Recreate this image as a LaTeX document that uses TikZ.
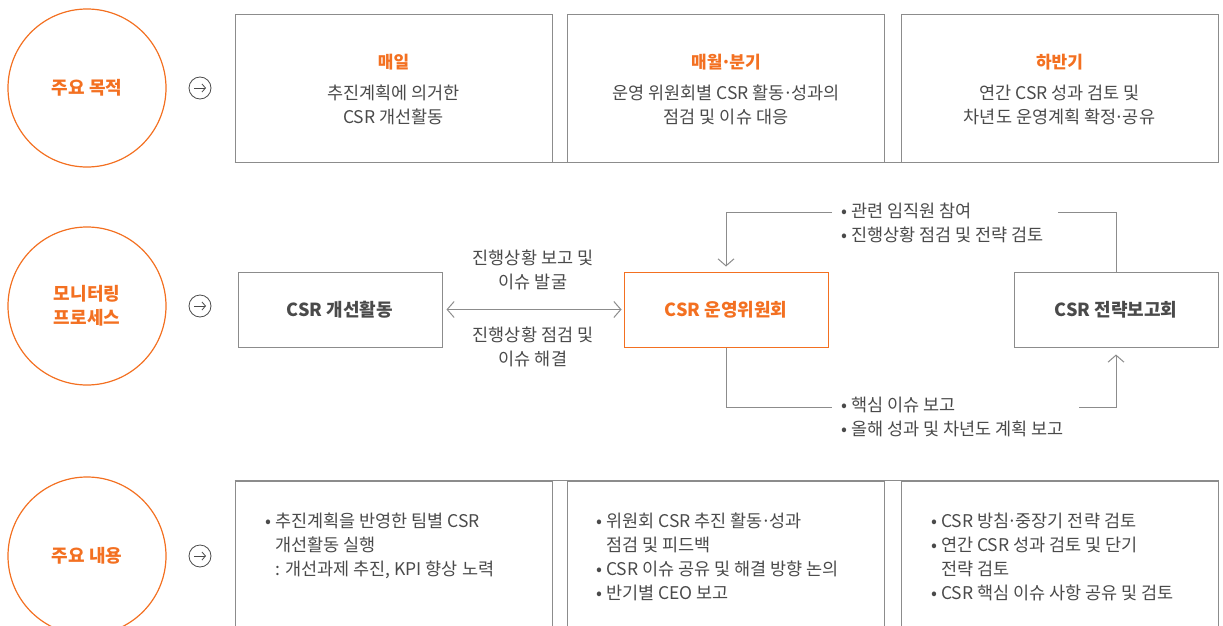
\documentclass[tikz,border=0pt]{standalone}
\usepackage{fontspec}
\setmainfont{Noto Sans CJK KR}
\usepackage{xcolor}
\usetikzlibrary{arrows.meta}

\definecolor{csrorange}{HTML}{F37021}
\definecolor{linegray}{HTML}{8C8C8C}
\definecolor{textgray}{HTML}{4A4A4A}

\newcommand{\middot}{\kern-.1em·\kern-.1em}

\tikzset{
  barb/.tip={Straight Barb[length=7pt,width=16pt]},
  smallbarb/.tip={Straight Barb[length=3.5pt,width=8pt]}
}

\begin{document}
\begin{tikzpicture}[x=1pt, y=-1pt,
    every node/.style={inner sep=0pt, text=textgray, font=\fontsize{17.5}{24}\selectfont},
    ring/.style={circle, draw=csrorange, line width=1.2pt, minimum size=158pt, align=center,
      text=csrorange, font=\bfseries\fontsize{18}{24}\selectfont},
    goicon/.style={circle, draw=textgray, line width=0.8pt, minimum size=22pt},
    cell/.style={draw=linegray, line width=1pt, minimum width=317pt, minimum height=147pt},
    stage/.style={draw=linegray, line width=1pt, minimum width=204pt, minimum height=75pt,
      font=\bfseries\fontsize{18}{24}\selectfont},
    period/.style={text=csrorange, font=\bfseries\fontsize{17}{24}\selectfont},
    flow/.style={draw=linegray, line width=1pt}]
  \useasboundingbox (0,0) rectangle (1223,626);
  \clip (0,0) rectangle (1223,626);

  % row labels
  \node[ring] (goal) at (87,88) {주요 목적};
  \node[ring] (monitor) at (87,306) {모니터링\\프로세스};
  \node[ring] (content) at (87,556) {주요 내용};

  \foreach \n/\y in {goal/88, monitor/306, content/556} {
    \node[goicon] (go\n) at (200,\y) {};
    \draw[textgray, line width=0.8pt, -smallbarb] ([xshift=-6pt]go\n.center) -- ([xshift=6pt]go\n.center);
  }

  % top row
  \node[cell] (daily) at (393.5,88.5) {};
  \node[cell] (monthly) at (726,88.5) {};
  \node[cell] (half) at (1059.5,88.5) {};
  \draw[flow] (daily.south west) -- (half.south east);

  \node[period] (dailyT) at (393.5,62) {매일};
  \node[align=center] (dailyB) at (393.5,105) {추진계획에 의거한\\CSR 개선활동};
  \node[period] (monthlyT) at (726,62) {매월\middot 분기};
  \node[align=center] (monthlyB) at (726,105) {운영 위원회별 CSR 활동\middot 성과의\\점검 및 이슈 대응};
  \node[period] (halfT) at (1059.5,62) {하반기};
  \node[align=center] (halfB) at (1059.5,105) {연간 CSR 성과 검토 및\\차년도 운영계획 확정\middot 공유};

  % monitoring process
  \node[stage] (improve) at (340,309.5) {CSR 개선활동};
  \node[stage, draw=csrorange, text=csrorange] (committee) at (726,309.5) {CSR 운영위원회};
  \node[stage] (report) at (1116,309.5) {CSR 전략보고회};

  \draw[flow, barb-barb, shorten <=4pt, shorten >=2pt] (improve) -- (committee);
  \node[align=center] (upLabel) at (533,269.5) {진행상황 보고 및\\이슈 발굴};
  \node[align=center] (downLabel) at (533,347) {진행상황 점검 및\\이슈 해결};

  \node[anchor=west, align=left] (loopUp) at (841,223) {• 관련 임직원 참여\\• 진행상황 점검 및 전략 검토};
  \coordinate (upGapL) at (832,212);
  \coordinate (upGapR) at (1058,212);
  \draw[flow] (report.north) |- (upGapR);
  \draw[flow, -barb, shorten >=5pt] (upGapL) -| (committee.north);

  \node[anchor=west, align=left] (loopDown) at (841,417) {• 핵심 이슈 보고\\• 올해 성과 및 차년도 계획 보고};
  \coordinate (downGapL) at (832,407);
  \coordinate (downGapR) at (1079,407);
  \draw[flow] (committee.south) |- (downGapL);
  \draw[flow, -barb, shorten >=7pt] (downGapR) -| (report.south);

  % bottom row
  \node[cell, minimum height=200pt] (teamBox) at (393.5,581) {};
  \node[cell, minimum height=200pt] (comBox) at (726,581) {};
  \node[cell, minimum height=200pt] (stratBox) at (1059.5,581) {};
  \draw[flow] (teamBox.north west) -- (stratBox.north east);

  \node[anchor=north west, align=left] (teamText) at (265,513)
    {• 추진계획을 반영한 팀별 CSR\\\hphantom{• }개선활동 실행\\\hphantom{• }: 개선과제 추진, KPI 향상 노력};
  \node[anchor=north west, align=left] (comText) at (596,513)
    {• 위원회 CSR 추진 활동\middot 성과\\\hphantom{• }점검 및 피드백\\• CSR 이슈 공유 및 해결 방향 논의\\• 반기별 CEO 보고};
  \node[anchor=north west, align=left] (stratText) at (931,513)
    {• CSR 방침\middot 중장기 전략 검토\\• 연간 CSR 성과 검토 및 단기\\\hphantom{• }전략 검토\\• CSR 핵심 이슈 사항 공유 및 검토};
\end{tikzpicture}
\end{document}
